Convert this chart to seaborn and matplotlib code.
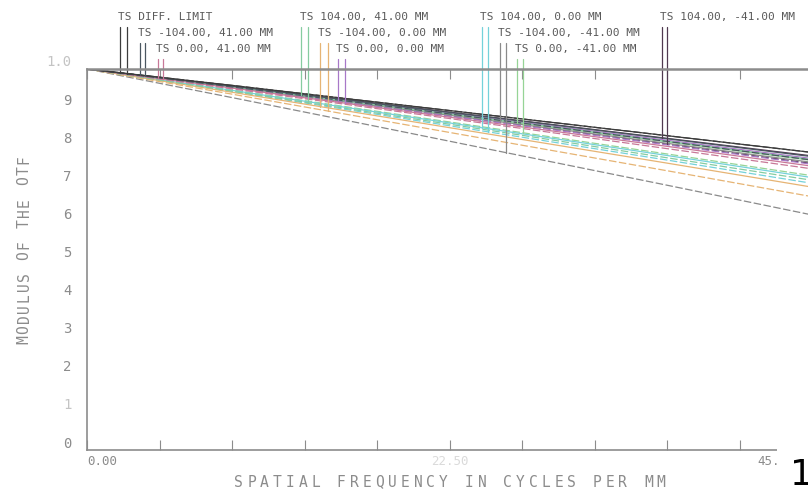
import numpy as np
import pandas as pd
import matplotlib
import matplotlib.pyplot as plt
from matplotlib.transforms import ScaledTranslation
import seaborn as sns

# MTF, at these spatial frequencies (cycles/mm)
freqs = [0, 9, 18, 27, 36, 45]

fields = ["DIFF. LIMIT", "-104.00, 41.00 MM", "0.00, 41.00 MM",
          "104.00, 41.00 MM", "-104.00, 0.00 MM", "0.00, 0.00 MM",
          "104.00, 0.00 MM", "-104.00, -41.00 MM", "0.00, -41.00 MM",
          "104.00, -41.00 MM"]
field_colors = ["#3c3c3c", "#4a5660", "#c87898", "#86cca0", "#e6b474",
                "#a878c8", "#74d2da", "#8a8a8a", "#96d496", "#503a50"]

mtf_t = [
    [1.0, 0.957, 0.913, 0.869, 0.825, 0.781],
    [1.0, 0.955, 0.909, 0.863, 0.817, 0.770],
    [1.0, 0.950, 0.899, 0.848, 0.797, 0.745],
    [1.0, 0.953, 0.906, 0.858, 0.810, 0.762],
    [1.0, 0.939, 0.877, 0.815, 0.753, 0.690],
    [1.0, 0.954, 0.907, 0.860, 0.813, 0.765],
    [1.0, 0.944, 0.887, 0.830, 0.773, 0.715],
    [1.0, 0.952, 0.903, 0.854, 0.805, 0.755],
    [1.0, 0.953, 0.905, 0.857, 0.809, 0.760],
    [1.0, 0.955, 0.910, 0.864, 0.818, 0.772],
]
mtf_s = [
    [1.0, 0.957, 0.913, 0.869, 0.825, 0.781],
    [1.0, 0.953, 0.906, 0.858, 0.810, 0.761],
    [1.0, 0.948, 0.896, 0.844, 0.791, 0.738],
    [1.0, 0.942, 0.884, 0.826, 0.767, 0.708],
    [1.0, 0.934, 0.867, 0.800, 0.733, 0.665],
    [1.0, 0.951, 0.901, 0.851, 0.801, 0.750],
    [1.0, 0.941, 0.881, 0.821, 0.761, 0.700],
    [1.0, 0.925, 0.849, 0.772, 0.695, 0.617],
    [1.0, 0.945, 0.889, 0.833, 0.777, 0.720],
    [1.0, 0.951, 0.902, 0.853, 0.803, 0.752],
]

# where the T and S leader lines of the legend drop onto the curves
leader_t = [2.05, 3.29, 4.41, 13.31, 14.46, 15.58, 24.52, 25.63, 26.69, 35.67]
leader_s = [2.48, 3.60, 4.72, 13.69, 14.96, 16.01, 24.89, 26.01, 27.06, 35.98]

ytick_labels = ["0", "1", "2", "3", "4", "5", "6", "7", "8", "9", "1.0"]
xtick_labels = ["0.00", "22.50", "45.00"]

rows = []
for name, t_vals, s_vals in zip(fields, mtf_t, mtf_s):
    for f, v in zip(freqs, t_vals):
        rows.append({"field": name, "dir": "T", "freq": f, "mtf": v})
    for f, v in zip(freqs, s_vals):
        rows.append({"field": name, "dir": "S", "freq": f, "mtf": v})
df = pd.DataFrame(rows)

sns.set_style("white")
plt.rcParams["font.family"] = ["DejaVu Sans Mono", "DejaVu Sans"]

W, H = 808, 494
fig = plt.figure(figsize=(W / 100, H / 100), dpi=100)
ax = fig.add_axes([87 / W, 1 - 450 / H, (812 - 87) / W, 381 / H])

sns.lineplot(data=df, x="freq", y="mtf", hue="field", style="dir",
             hue_order=fields[::-1], palette=dict(zip(fields, field_colors)),
             dashes={"T": "", "S": (6, 2)}, linewidth=0.9, legend=False,
             ax=ax)

ax.set_xlim(0, 45)
ax.set_ylim(0, 1)
ax.set_xlabel("")
ax.set_ylabel("")

axis_gray = "#8c8c8c"
for side in ["left", "bottom", "top"]:
    ax.spines[side].set_color(axis_gray)
    ax.spines[side].set_linewidth(1.2)
ax.spines["top"].set_linewidth(1.8)
ax.spines["right"].set_visible(False)

ax.set_xticks(np.arange(0, 45.1, 4.5))
ax.set_xticklabels([])
ax.set_yticks(np.arange(0, 1.01, 0.1))
ax.set_yticklabels(ytick_labels)
ax.tick_params(axis="x", direction="in", length=7, color=axis_gray, top=True,
               bottom=True)
ax.tick_params(axis="y", direction="in", length=8, color=axis_gray, pad=11,
               labelsize=10, labelcolor="#8c8c8c")
for i, lab in enumerate(ax.get_yticklabels()):
    lab.set_transform(lab.get_transform()
                      + ScaledTranslation(0, 8 / 100, fig.dpi_scale_trans))
    if i in (1, 10):
        lab.set_color("#c4c4c4")

# x tick labels as Zemax places them
xl_tr = ax.get_xaxis_transform()
ax.text(0, -0.03, xtick_labels[0], transform=xl_tr, ha="left", va="center",
        fontsize=9, color="#8c8c8c")
ax.text(22.5, -0.03, xtick_labels[1], transform=xl_tr, ha="center",
        va="center", fontsize=9, color="#dadada")
ax.text(45, -0.03, xtick_labels[2], transform=xl_tr
        + ScaledTranslation(-17 / 100, 0, fig.dpi_scale_trans),
        ha="right", va="center", fontsize=9, color="#8c8c8c")

# legend: stacked labels with leader lines down to the curves
row_text_y = [1.136, 1.094, 1.052]
row_line_top = [1.110, 1.068, 1.026]
for i, name in enumerate(fields):
    r = i % 3
    ax.text(leader_t[i] - 0.1, row_text_y[r], "TS " + name, ha="left",
            va="center", fontsize=8, color="#5a5a5a", clip_on=False)
    ax.plot([leader_t[i], leader_t[i]],
            [row_line_top[r], np.interp(leader_t[i], freqs, mtf_t[i])],
            color=field_colors[i], linewidth=0.9, clip_on=False)
    ax.plot([leader_s[i], leader_s[i]],
            [row_line_top[r], np.interp(leader_s[i], freqs, mtf_s[i])],
            color=field_colors[i], linewidth=0.9, clip_on=False)

# axis titles, letter by letter for the wide stroke-font spacing
xtitle = "SPATIAL FREQUENCY IN CYCLES PER MM"
pitch = 12.8
x0 = 450 - pitch * len(xtitle) / 2 + pitch / 2
for i, ch in enumerate(xtitle):
    fig.text((x0 + i * pitch) / W, 1 - 482 / H, ch, ha="center", va="center",
             fontsize=10.5, color="#8c8c8c")

ytitle = "MODULUS OF THE OTF"
pitch = 10.6
y0 = 250 + pitch * len(ytitle) / 2 - pitch / 2
for i, ch in enumerate(ytitle):
    fig.text(24 / W, 1 - (y0 - i * pitch) / H, ch, ha="center", va="center",
             rotation=90, fontsize=10.5, color="#8c8c8c")

# page corner overlapping the plot
fig.patches.append(matplotlib.patches.Rectangle(
    (777 / W, 0), 1, 1 - 448 / H, transform=fig.transFigure,
    facecolor="white", edgecolor="none", zorder=5))
fig.text(790 / W, 1 - 458 / H, "1", ha="left", va="top", fontsize=26,
         color="black", fontfamily="DejaVu Sans", zorder=6)

fig.savefig("out.png", dpi=100)
